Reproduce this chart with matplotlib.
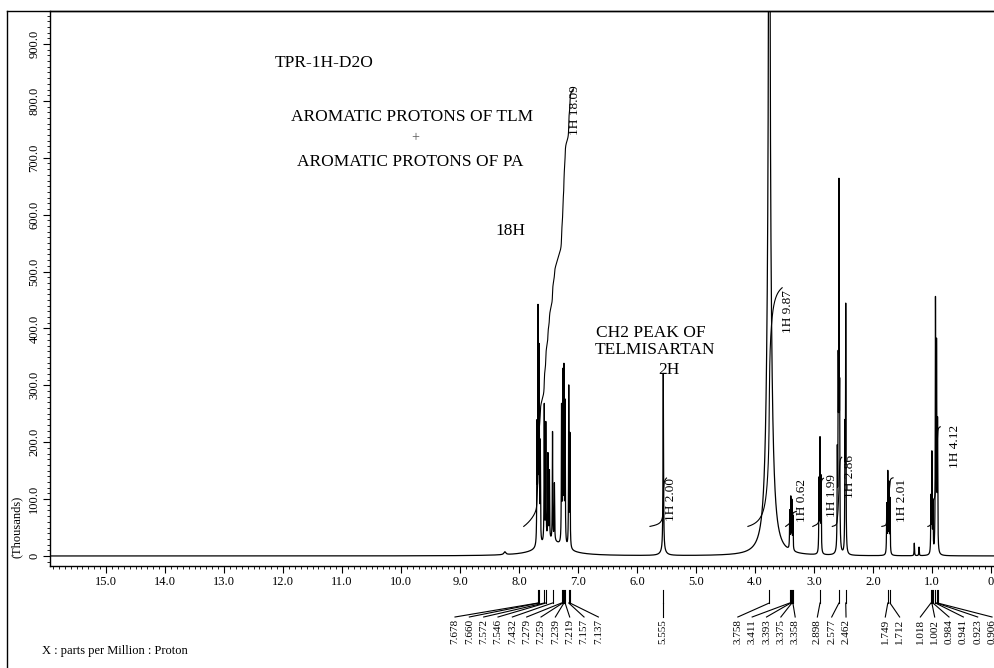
import numpy as np
import matplotlib
matplotlib.use("Agg")
import matplotlib.pyplot as plt
from matplotlib.lines import Line2D
from matplotlib.ticker import MultipleLocator, FuncFormatter
from matplotlib.transforms import blended_transform_factory

plt.rcParams['font.family'] = ['Liberation Serif', 'DejaVu Serif']

W, H = 995, 668

# Resonance lines: shift (ppm), height (thousands), half width (ppm)
line_ppm = [8.24,
            7.695, 7.678, 7.660, 7.640, 7.572, 7.546, 7.510, 7.485, 7.432, 7.400,
            7.279, 7.259, 7.239, 7.219, 7.157, 7.137, 7.45,
            5.555, 5.555,
            3.758, 3.758,
            3.411, 3.393, 3.375, 3.358,
            2.915, 2.898, 2.880,
            2.605, 2.590, 2.577, 2.565, 2.475, 2.462,
            1.767, 1.749, 1.730, 1.712,
            1.30, 1.22,
            1.018, 1.002, 0.984, 0.941, 0.923, 0.906]
line_height = [5,
               200, 400, 330, 170, 240, 205, 150, 120, 190, 100,
               235, 290, 300, 245, 280, 195, 25,
               312, 8,
               3000, 600,
               65, 88, 83, 58,
               125, 195, 130,
               160, 290, 610, 240, 200, 425,
               85, 140, 120, 95,
               22, 15,
               95, 172, 85, 435, 350, 220]
line_hw = [0.02,
           0.004, 0.004, 0.004, 0.004, 0.004, 0.004, 0.004, 0.004, 0.004, 0.004,
           0.004, 0.004, 0.004, 0.004, 0.004, 0.004, 0.25,
           0.005, 0.05,
           0.006, 0.045,
           0.004, 0.004, 0.004, 0.004,
           0.004, 0.004, 0.004,
           0.004, 0.004, 0.004, 0.004, 0.004, 0.004,
           0.004, 0.004, 0.004, 0.004,
           0.004, 0.004,
           0.004, 0.004, 0.004, 0.004, 0.004, 0.004]

# Integration regions and values
integ_start = [7.92, 5.78, 4.12, 3.48, 3.02, 2.69, 1.85, 1.07]
integ_end = [7.08, 5.50, 3.54, 3.30, 2.84, 2.53, 1.66, 0.86]
integ_value = [18.09, 2.00, 9.87, 0.62, 1.99, 2.86, 2.01, 4.12]
integ_label_ppm = [7.05, 5.42, 3.44, 3.20, 2.69, 2.39, 1.51, 0.61]
integ_label_y = [784, 100, 429, 97, 107, 139, 98, 192]
integ_base = 52.0
integ_scale = 42.5  # thousands per proton unit

# Picked peaks, grouped as listed under the axis
peak_groups = [[7.678, 7.660, 7.572, 7.546, 7.432, 7.279, 7.259, 7.239, 7.219, 7.157, 7.137],
               [5.555],
               [3.758, 3.411, 3.393, 3.375, 3.358],
               [2.898, 2.577, 2.462],
               [1.749, 1.712],
               [1.018, 1.002, 0.984, 0.941, 0.923, 0.906]]
group_centers = [7.87, 5.555, 3.805, 2.70, 1.67, 0.59]
label_step = 0.243

yticks = [0, 100, 200, 300, 400, 500, 600, 700, 800, 900]
xticks = list(range(0, 16))

# ---- spectrum ----
x = np.linspace(16.3, -0.3, 66001)
spec = np.zeros_like(x)
for p, h, w in zip(line_ppm, line_height, line_hw):
    spec += h * w ** 2 / ((x - p) ** 2 + w ** 2)

fig = plt.figure(figsize=(W / 100, H / 100), dpi=100)
ax = fig.add_axes([50 / W, 1 - 566 / H, (995 - 50) / W, (566 - 11) / H])
ax.plot(x, spec, color='black', lw=0.9)
ax.set_xlim(15.95, -0.068)
ax.set_ylim(-17.6, 958)

# integral curves
for s, e, v, lx, ly in zip(integ_start, integ_end, integ_value,
                           integ_label_ppm, integ_label_y):
    m = (x <= s) & (x >= e)
    c = np.cumsum(spec[m])
    c = c / c[-1]
    ax.plot(x[m], integ_base + c * v * integ_scale, color='black', lw=0.8)
    ax.text(lx, ly, f"1H {v:.2f}", rotation=90, ha='center', va='center',
            fontsize=9.5)

# axes styling
ax.spines['right'].set_visible(False)
for side in ['left', 'bottom', 'top']:
    ax.spines[side].set_linewidth(1.0)
ax.xaxis.set_minor_locator(MultipleLocator(0.1))
ax.yaxis.set_minor_locator(MultipleLocator(10))
ax.set_xticks(xticks)
ax.set_yticks(yticks)
fmt = FuncFormatter(lambda v, p: "0" if abs(v) < 1e-9 else f"{v:.1f}")
ax.xaxis.set_major_formatter(fmt)
ax.yaxis.set_major_formatter(fmt)
ax.tick_params(axis='both', which='major', direction='out', length=5, width=0.8,
               labelsize=9, pad=2)
ax.tick_params(axis='both', which='minor', direction='out', length=2.5, width=0.6)
for lab in ax.get_yticklabels():
    lab.set_rotation(90)
    lab.set_va('center')

fig.text(17 / W, 1 - 527 / H, "(Thousands)", rotation=90, ha='center', va='center',
         fontsize=9)
fig.text(42 / W, 1 - 651 / H, "X : parts per Million : Proton", ha='left',
         va='center', fontsize=9)

# outer frame
fig.add_artist(Line2D([7 / W, 7 / W], [0, 1 - 11 / H], color='black', lw=1.0))
fig.add_artist(Line2D([7 / W, 1], [1 - 11 / H, 1 - 11 / H], color='black', lw=1.0))

# annotations
ann = dict(fontsize=12.5, ha='center', va='center')
ax.text(12.14, 866, "TPR-1H-D2O", fontsize=12.5, ha='left', va='center')
ax.text(9.81, 771, "AROMATIC PROTONS OF TLM", **ann)
ax.text(9.76, 735, "+", fontsize=10, ha='center', va='center', color='0.35')
ax.text(9.85, 692, "AROMATIC PROTONS OF PA", **ann)
ax.text(8.14, 571, "18H", **ann)
ax.text(5.76, 392, "CH2 PEAK OF", **ann)
ax.text(5.69, 362, "TELMISARTAN", **ann)
ax.text(5.46, 327, "2H", **ann)

# peak pick markers and labels under the axis
trans = blended_transform_factory(ax.transData, fig.transFigure)
fy = lambda ypx: 1 - ypx / H
for grp, cen in zip(peak_groups, group_centers):
    n = len(grp)
    for i, p in enumerate(grp):
        lx = cen + ((n - 1) / 2 - i) * label_step
        ax.add_line(Line2D([p, p], [fy(590), fy(603)], transform=trans,
                           color='black', lw=0.8, clip_on=False))
        ax.add_line(Line2D([p, lx], [fy(603), fy(617)], transform=trans,
                           color='black', lw=0.8, clip_on=False))
        ax.text(lx, fy(619), f"{p:.3f}", transform=trans, rotation=90,
                ha='center', va='top', fontsize=8, clip_on=False)

fig.savefig("out.png", dpi=100)
